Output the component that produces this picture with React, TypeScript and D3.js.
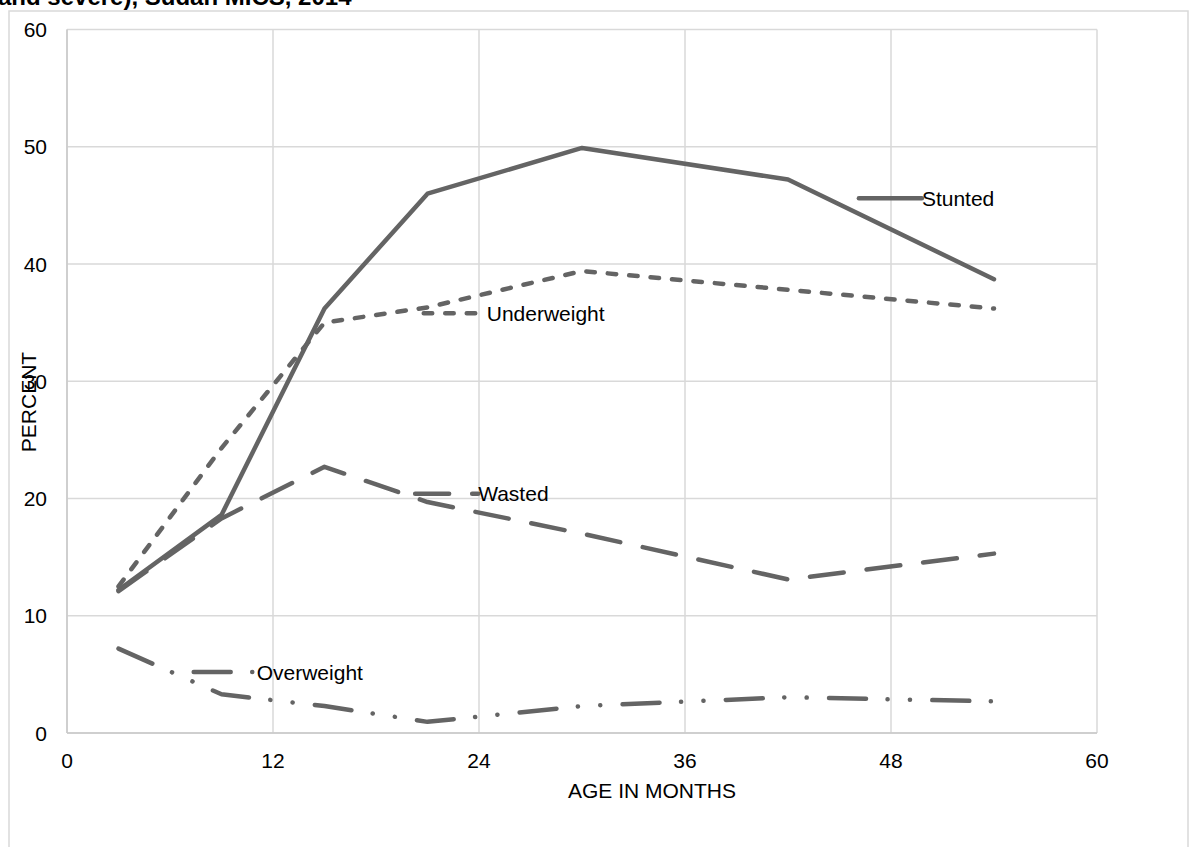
import React from "react";
import * as d3 from "d3";

// Nutritional status by age: midpoints of the age groups (months)
const ageMonths = [3, 9, 15, 21, 30, 42, 54];

const stunted = [12.2, 18.6, 36.2, 46.0, 49.9, 47.2, 38.7];
const underweight = [12.5, 24.3, 35.0, 36.3, 39.4, 37.8, 36.2];
const wasted = [12.1, 18.3, 22.7, 19.7, 17.0, 13.1, 15.3];
const overweight = [7.2, 3.3, 2.3, 0.95, 2.3, 3.05, 2.7];

const xTicks = [0, 12, 24, 36, 48, 60];
const yTicks = [0, 10, 20, 30, 40, 50, 60];

const titleText = "and severe), Sudan MICS, 2014";
const xTitle = "AGE IN MONTHS";
const yTitle = "PERCENT";

type Series = {
  name: string;
  values: number[];
  dash: string | null;
  // label anchor in data units
  labelAt: [number, number];
};

const seriesList: Series[] = [
  { name: "Stunted", values: stunted, dash: null, labelAt: [49.8, 45.6] },
  { name: "Underweight", values: underweight, dash: "8.5 13", labelAt: [24.45, 35.8] },
  { name: "Wasted", values: wasted, dash: "34 23", labelAt: [23.95, 20.4] },
  { name: "Overweight", values: overweight, dash: "37 21.5 0.1 22.3 0.1 22.3", labelAt: [11.05, 5.2] },
];

const W = 1197;
const H = 847;
const LINE = "#646464";
const GRID = "#d9d9d9";
const FONT = "Liberation Sans, Arial, sans-serif";
const FS = 21;

export default function App() {
  const x = d3.scaleLinear().domain([0, 60]).range([67, 1097]);
  const y = d3.scaleLinear().domain([0, 60]).range([733, 29.5]);

  const line = d3
    .line<number>()
    .x((_, i) => x(ageMonths[i]))
    .y((v) => y(v));

  return (
    <div style={{ position: "absolute", left: 0, top: 0 }}>
      <svg width={W} height={H} style={{ display: "block", background: "#fff" }}>
        {/* chart frame */}
        <rect x={9} y={11} width={1179} height={H} fill="none" stroke={GRID} strokeWidth={1.5} />

        <text x={-2} y={5} fontFamily={FONT} fontWeight="bold" fontSize={24} fill="#000">
          {titleText}
        </text>

        {/* gridlines */}
        {yTicks.map((t) => (
          <line key={"gy" + t} x1={x(0)} x2={x(60)} y1={y(t)} y2={y(t)} stroke={GRID} strokeWidth={1.5} />
        ))}
        {xTicks.map((t) => (
          <line key={"gx" + t} x1={x(t)} x2={x(t)} y1={y(0)} y2={y(60)} stroke={GRID} strokeWidth={1.5} />
        ))}
        <line x1={x(0)} x2={x(0)} y1={y(0)} y2={y(60)} stroke="#c8c8c8" strokeWidth={1.5} />
        <line x1={x(0)} x2={x(60)} y1={y(0)} y2={y(0)} stroke="#c8c8c8" strokeWidth={1.5} />

        {/* tick labels */}
        {yTicks.map((t) => (
          <text
            key={"ty" + t}
            x={47}
            y={y(t)}
            dy="0.36em"
            textAnchor="end"
            fontFamily={FONT}
            fontSize={FS}
            fill="#000"
          >
            {t}
          </text>
        ))}
        {xTicks.map((t) => (
          <text
            key={"tx" + t}
            x={x(t)}
            y={760}
            dy="0.36em"
            textAnchor="middle"
            fontFamily={FONT}
            fontSize={FS}
            fill="#000"
          >
            {t}
          </text>
        ))}

        {/* axis titles */}
        <text x={652} y={790} dy="0.36em" textAnchor="middle" fontFamily={FONT} fontSize={FS} fill="#000">
          {xTitle}
        </text>
        <text
          transform={`translate(28,402) rotate(-90)`}
          dy="0.36em"
          textAnchor="middle"
          fontFamily={FONT}
          fontSize={FS}
          fill="#000"
        >
          {yTitle}
        </text>

        {/* series */}
        {seriesList.map((s) => (
          <path
            key={s.name}
            d={line(s.values) || ""}
            fill="none"
            stroke={LINE}
            strokeWidth={4.5}
            strokeLinecap="round"
            strokeLinejoin="round"
            strokeDasharray={s.dash || undefined}
          />
        ))}

        {/* inline series labels with key */}
        {seriesList.map((s) => {
          const lx = x(s.labelAt[0]);
          const ly = y(s.labelAt[1]);
          return (
            <g key={"lab" + s.name}>
              <line
                x1={lx - 63}
                x2={lx}
                y1={ly}
                y2={ly}
                stroke={LINE}
                strokeWidth={4.5}
                strokeLinecap="round"
                strokeDasharray={s.dash || undefined}
              />
              <text x={lx} y={ly} dy="0.36em" fontFamily={FONT} fontSize={FS} fill="#000">
                {s.name}
              </text>
            </g>
          );
        })}
      </svg>
    </div>
  );
}
